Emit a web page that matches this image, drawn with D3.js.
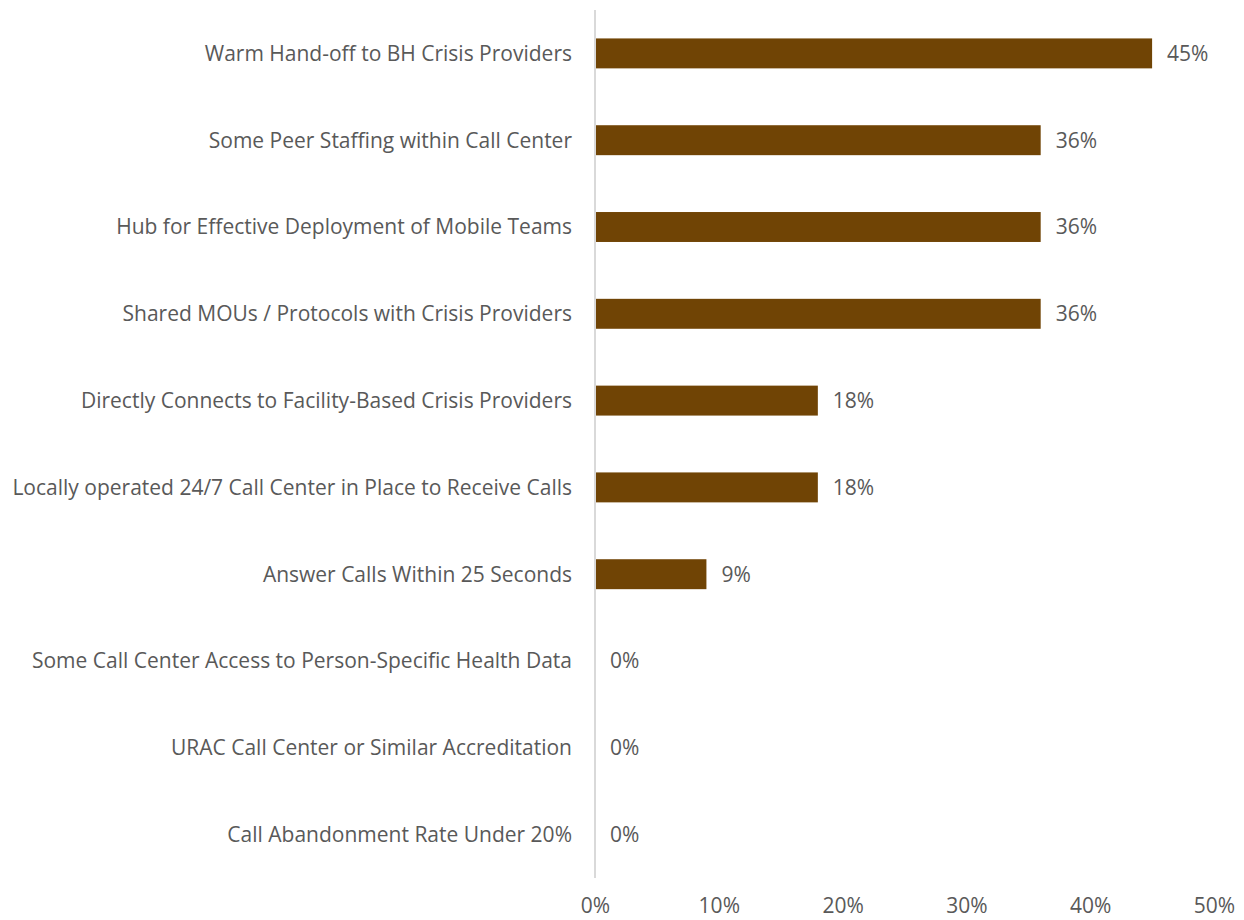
<!DOCTYPE html>
<html>
<head>
<meta charset="utf-8">
<script src="https://cdn.jsdelivr.net/npm/d3@7"></script>
<style>
  html, body { margin: 0; padding: 0; background: #fff; }
  svg text { font-family: "Open Sans", "Noto Sans", sans-serif; fill: #595959; }
</style>
</head>
<body>
<svg id="chart" width="1244" height="920"></svg>
<script>
// Share of sites reporting each call-center capability
const categories = [
  "Warm Hand-off to BH Crisis Providers",
  "Some Peer Staffing within Call Center",
  "Hub for Effective Deployment of Mobile Teams",
  "Shared MOUs / Protocols with Crisis Providers",
  "Directly Connects to Facility-Based Crisis Providers",
  "Locally operated 24/7 Call Center in Place to Receive Calls",
  "Answer Calls Within 25 Seconds",
  "Some Call Center Access to Person-Specific Health Data",
  "URAC Call Center or Similar Accreditation",
  "Call Abandonment Rate Under 20%"
];
const values = [0.45, 0.36, 0.36, 0.36, 0.18, 0.18, 0.09, 0.0, 0.0, 0.0];
const valueLabels = ["45%", "36%", "36%", "36%", "18%", "18%", "9%", "0%", "0%", "0%"];
const tickValues = [0, 0.1, 0.2, 0.3, 0.4, 0.5];

const svg = d3.select("#chart");
const plotLeft = 595, plotRight = 1214, plotTop = 10, plotBottom = 878;
const fontSize = 21;

const x = d3.scaleLinear().domain([0, 0.5]).range([plotLeft, plotRight]);
const y = d3.scaleBand().domain(categories).range([plotTop, plotBottom]).paddingInner(0.655).paddingOuter(0.3275);

// bars
svg.append("g").selectAll("rect")
  .data(categories)
  .join("rect")
  .attr("x", x(0))
  .attr("y", d => y(d))
  .attr("width", (d, i) => x(values[i]) - x(0))
  .attr("height", y.bandwidth())
  .attr("fill", "#704405");

// vertical category axis line
svg.append("line")
  .attr("x1", x(0)).attr("x2", x(0))
  .attr("y1", plotTop).attr("y2", plotBottom)
  .attr("stroke", "#d9d9d9").attr("stroke-width", 2);

// category labels
svg.append("g").selectAll("text")
  .data(categories)
  .join("text")
  .attr("x", plotLeft - 23)
  .attr("y", d => y(d) + y.bandwidth() / 2)
  .attr("dy", "0.35em")
  .attr("text-anchor", "end")
  .attr("font-size", fontSize)
  .text(d => d);

// value labels
svg.append("g").selectAll("text")
  .data(categories)
  .join("text")
  .attr("x", (d, i) => x(values[i]) + 15)
  .attr("y", d => y(d) + y.bandwidth() / 2)
  .attr("dy", "0.35em")
  .attr("font-size", fontSize)
  .text((d, i) => valueLabels[i]);

// value axis (labels only, baseline near the bottom edge)
const xAxis = d3.axisBottom(x).tickValues(tickValues).tickFormat(d3.format(".0%")).tickSize(0).tickPadding(0);
const gx = svg.append("g").attr("transform", "translate(0, 913)").call(xAxis);
gx.select(".domain").remove();
gx.selectAll("text").attr("font-size", fontSize).attr("dy", "0").style("fill", "#595959");
</script>
</body>
</html>
